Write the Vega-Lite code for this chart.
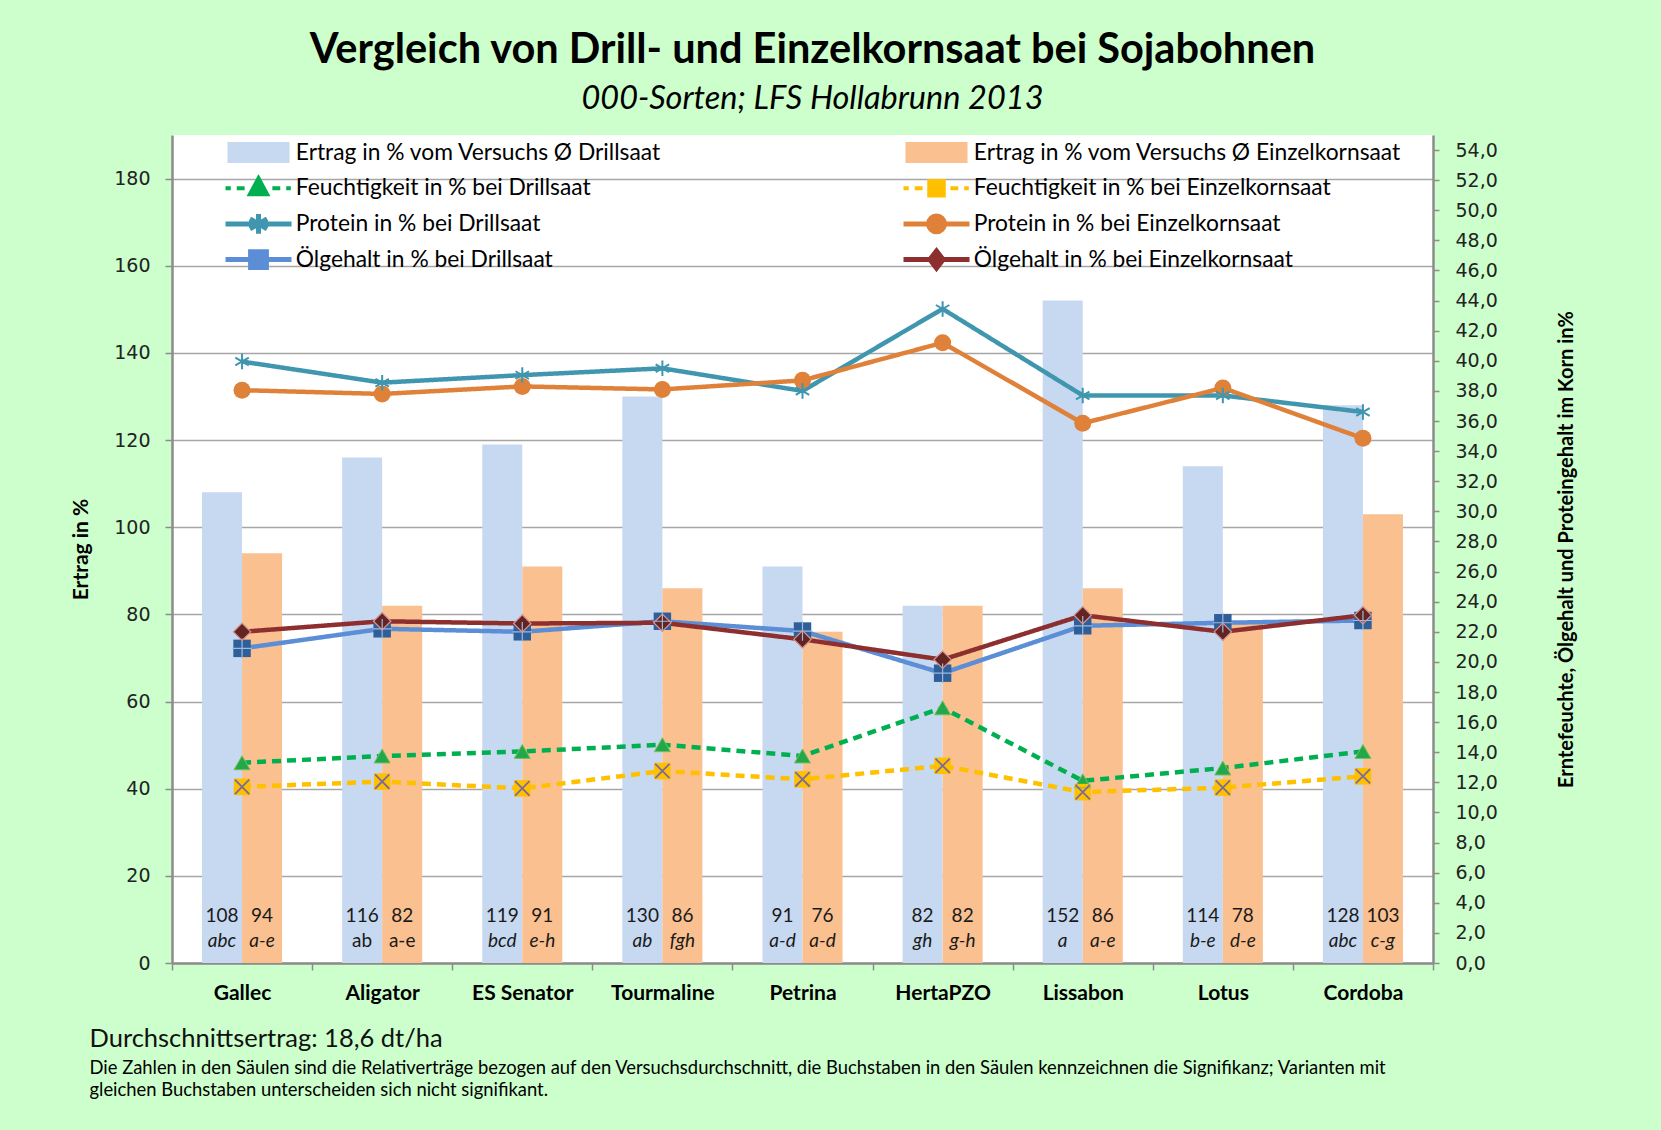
{
  "$schema": "https://vega.github.io/schema/vega-lite/v6.json",
  "width": 1261,
  "height": 828,
  "autosize": {"type": "none"},
  "padding": {"left": 172, "top": 135, "right": 228, "bottom": 167},
  "background": "#CCFFCC",
  "title": {
    "text": "Vergleich von Drill- und Einzelkornsaat bei Sojabohnen",
    "subtitle": "000-Sorten; LFS Hollabrunn 2013",
    "anchor": "middle", "frame": "group", "dx": 10, "offset": 20,
    "font": "Lato", "fontSize": 41.5, "fontWeight": "bold", "color": "#000000",
    "subtitleFont": "Lato", "subtitleFontSize": 32.5, "subtitleFontStyle": "italic", "subtitleFontWeight": "normal",
    "subtitleColor": "#000000", "subtitlePadding": 11
  },
  "datasets": {
    "ertrag": [
      {"sorte": "Gallec", "serie": "Ertrag in % vom Versuchs Ø Drillsaat", "ertrag": 108, "sig": "abc"},
      {"sorte": "Gallec", "serie": "Ertrag in % vom Versuchs Ø Einzelkornsaat", "ertrag": 94, "sig": "a-e"},
      {"sorte": "Aligator", "serie": "Ertrag in % vom Versuchs Ø Drillsaat", "ertrag": 116, "sig": "ab"},
      {"sorte": "Aligator", "serie": "Ertrag in % vom Versuchs Ø Einzelkornsaat", "ertrag": 82, "sig": "a-e"},
      {"sorte": "ES Senator", "serie": "Ertrag in % vom Versuchs Ø Drillsaat", "ertrag": 119, "sig": "bcd"},
      {"sorte": "ES Senator", "serie": "Ertrag in % vom Versuchs Ø Einzelkornsaat", "ertrag": 91, "sig": "e-h"},
      {"sorte": "Tourmaline", "serie": "Ertrag in % vom Versuchs Ø Drillsaat", "ertrag": 130, "sig": "ab"},
      {"sorte": "Tourmaline", "serie": "Ertrag in % vom Versuchs Ø Einzelkornsaat", "ertrag": 86, "sig": "fgh"},
      {"sorte": "Petrina", "serie": "Ertrag in % vom Versuchs Ø Drillsaat", "ertrag": 91, "sig": "a-d"},
      {"sorte": "Petrina", "serie": "Ertrag in % vom Versuchs Ø Einzelkornsaat", "ertrag": 76, "sig": "a-d"},
      {"sorte": "HertaPZO", "serie": "Ertrag in % vom Versuchs Ø Drillsaat", "ertrag": 82, "sig": "gh"},
      {"sorte": "HertaPZO", "serie": "Ertrag in % vom Versuchs Ø Einzelkornsaat", "ertrag": 82, "sig": "g-h"},
      {"sorte": "Lissabon", "serie": "Ertrag in % vom Versuchs Ø Drillsaat", "ertrag": 152, "sig": "a"},
      {"sorte": "Lissabon", "serie": "Ertrag in % vom Versuchs Ø Einzelkornsaat", "ertrag": 86, "sig": "a-e"},
      {"sorte": "Lotus", "serie": "Ertrag in % vom Versuchs Ø Drillsaat", "ertrag": 114, "sig": "b-e"},
      {"sorte": "Lotus", "serie": "Ertrag in % vom Versuchs Ø Einzelkornsaat", "ertrag": 78, "sig": "d-e"},
      {"sorte": "Cordoba", "serie": "Ertrag in % vom Versuchs Ø Drillsaat", "ertrag": 128, "sig": "abc"},
      {"sorte": "Cordoba", "serie": "Ertrag in % vom Versuchs Ø Einzelkornsaat", "ertrag": 103, "sig": "c-g"}
    ],
    "qualitaet": [
      {"sorte": "Gallec", "merkmal": "Feuchtigkeit in %  bei Drillsaat", "wert": 13.3},
      {"sorte": "Aligator", "merkmal": "Feuchtigkeit in %  bei Drillsaat", "wert": 13.75},
      {"sorte": "ES Senator", "merkmal": "Feuchtigkeit in %  bei Drillsaat", "wert": 14.05},
      {"sorte": "Tourmaline", "merkmal": "Feuchtigkeit in %  bei Drillsaat", "wert": 14.5},
      {"sorte": "Petrina", "merkmal": "Feuchtigkeit in %  bei Drillsaat", "wert": 13.75},
      {"sorte": "HertaPZO", "merkmal": "Feuchtigkeit in %  bei Drillsaat", "wert": 16.95},
      {"sorte": "Lissabon", "merkmal": "Feuchtigkeit in %  bei Drillsaat", "wert": 12.1},
      {"sorte": "Lotus", "merkmal": "Feuchtigkeit in %  bei Drillsaat", "wert": 12.95},
      {"sorte": "Cordoba", "merkmal": "Feuchtigkeit in %  bei Drillsaat", "wert": 14.05},
      {"sorte": "Gallec", "merkmal": "Feuchtigkeit in %  bei Einzelkornsaat", "wert": 11.7},
      {"sorte": "Aligator", "merkmal": "Feuchtigkeit in %  bei Einzelkornsaat", "wert": 12.05},
      {"sorte": "ES Senator", "merkmal": "Feuchtigkeit in %  bei Einzelkornsaat", "wert": 11.6},
      {"sorte": "Tourmaline", "merkmal": "Feuchtigkeit in %  bei Einzelkornsaat", "wert": 12.75},
      {"sorte": "Petrina", "merkmal": "Feuchtigkeit in %  bei Einzelkornsaat", "wert": 12.2},
      {"sorte": "HertaPZO", "merkmal": "Feuchtigkeit in %  bei Einzelkornsaat", "wert": 13.1},
      {"sorte": "Lissabon", "merkmal": "Feuchtigkeit in %  bei Einzelkornsaat", "wert": 11.35},
      {"sorte": "Lotus", "merkmal": "Feuchtigkeit in %  bei Einzelkornsaat", "wert": 11.65},
      {"sorte": "Cordoba", "merkmal": "Feuchtigkeit in %  bei Einzelkornsaat", "wert": 12.4},
      {"sorte": "Gallec", "merkmal": "Protein in %  bei Drillsaat", "wert": 39.95},
      {"sorte": "Aligator", "merkmal": "Protein in %  bei Drillsaat", "wert": 38.55},
      {"sorte": "ES Senator", "merkmal": "Protein in %  bei Drillsaat", "wert": 39.05},
      {"sorte": "Tourmaline", "merkmal": "Protein in %  bei Drillsaat", "wert": 39.5},
      {"sorte": "Petrina", "merkmal": "Protein in %  bei Drillsaat", "wert": 38.0},
      {"sorte": "HertaPZO", "merkmal": "Protein in %  bei Drillsaat", "wert": 43.45},
      {"sorte": "Lissabon", "merkmal": "Protein in %  bei Drillsaat", "wert": 37.7},
      {"sorte": "Lotus", "merkmal": "Protein in %  bei Drillsaat", "wert": 37.7},
      {"sorte": "Cordoba", "merkmal": "Protein in %  bei Drillsaat", "wert": 36.6},
      {"sorte": "Gallec", "merkmal": "Protein in %  bei Einzelkornsaat", "wert": 38.05},
      {"sorte": "Aligator", "merkmal": "Protein in %  bei Einzelkornsaat", "wert": 37.8},
      {"sorte": "ES Senator", "merkmal": "Protein in %  bei Einzelkornsaat", "wert": 38.3},
      {"sorte": "Tourmaline", "merkmal": "Protein in %  bei Einzelkornsaat", "wert": 38.1},
      {"sorte": "Petrina", "merkmal": "Protein in %  bei Einzelkornsaat", "wert": 38.7},
      {"sorte": "HertaPZO", "merkmal": "Protein in %  bei Einzelkornsaat", "wert": 41.2},
      {"sorte": "Lissabon", "merkmal": "Protein in %  bei Einzelkornsaat", "wert": 35.85},
      {"sorte": "Lotus", "merkmal": "Protein in %  bei Einzelkornsaat", "wert": 38.2},
      {"sorte": "Cordoba", "merkmal": "Protein in %  bei Einzelkornsaat", "wert": 34.85},
      {"sorte": "Gallec", "merkmal": "Ölgehalt in %  bei Drillsaat", "wert": 20.9},
      {"sorte": "Aligator", "merkmal": "Ölgehalt in %  bei Drillsaat", "wert": 22.2},
      {"sorte": "ES Senator", "merkmal": "Ölgehalt in %  bei Drillsaat", "wert": 22.0},
      {"sorte": "Tourmaline", "merkmal": "Ölgehalt in %  bei Drillsaat", "wert": 22.7},
      {"sorte": "Petrina", "merkmal": "Ölgehalt in %  bei Drillsaat", "wert": 22.05},
      {"sorte": "HertaPZO", "merkmal": "Ölgehalt in %  bei Drillsaat", "wert": 19.25},
      {"sorte": "Lissabon", "merkmal": "Ölgehalt in %  bei Drillsaat", "wert": 22.4},
      {"sorte": "Lotus", "merkmal": "Ölgehalt in %  bei Drillsaat", "wert": 22.6},
      {"sorte": "Cordoba", "merkmal": "Ölgehalt in %  bei Drillsaat", "wert": 22.75},
      {"sorte": "Gallec", "merkmal": "Ölgehalt in %  bei Einzelkornsaat", "wert": 22.0},
      {"sorte": "Aligator", "merkmal": "Ölgehalt in %  bei Einzelkornsaat", "wert": 22.7},
      {"sorte": "ES Senator", "merkmal": "Ölgehalt in %  bei Einzelkornsaat", "wert": 22.55},
      {"sorte": "Tourmaline", "merkmal": "Ölgehalt in %  bei Einzelkornsaat", "wert": 22.6},
      {"sorte": "Petrina", "merkmal": "Ölgehalt in %  bei Einzelkornsaat", "wert": 21.5},
      {"sorte": "HertaPZO", "merkmal": "Ölgehalt in %  bei Einzelkornsaat", "wert": 20.15},
      {"sorte": "Lissabon", "merkmal": "Ölgehalt in %  bei Einzelkornsaat", "wert": 23.1},
      {"sorte": "Lotus", "merkmal": "Ölgehalt in %  bei Einzelkornsaat", "wert": 22.0},
      {"sorte": "Cordoba", "merkmal": "Ölgehalt in %  bei Einzelkornsaat", "wert": 23.1}
    ]
  },
  "layer": [
    {
      "data": {"name": "ertrag"},
      "encoding": {
        "x": {
          "field": "sorte", "type": "nominal", "sort": null,
          "scale": {"domain": ["Gallec", "Aligator", "ES Senator", "Tourmaline", "Petrina", "HertaPZO", "Lissabon", "Lotus", "Cordoba"], "paddingInner": 0, "paddingOuter": 0},
          "axis": {
            "orient": "bottom",
            "title": "Durchschnittsertrag: 18,6  dt/ha", "titleX": -83, "titleY": 75, "titleAlign": "left", "titleBaseline": "middle",
            "titleFont": "Lato", "titleFontSize": 25.5, "titleFontWeight": "normal", "titleColor": "#111111",
            "labelAngle": 0, "labelFont": "Lato", "labelFontSize": 21, "labelFontWeight": "bold", "labelColor": "#000000", "labelPadding": 12,
            "tickBand": "extent", "tickSize": 7, "tickColor": "#8C8C8C", "tickWidth": 1.5,
            "domainColor": "#8C8C8C", "domainWidth": 2.5, "grid": false
          }
        },
        "xOffset": {
          "field": "serie", "type": "nominal", "sort": null,
          "scale": {"domain": ["Ertrag in % vom Versuchs Ø Drillsaat", "Ertrag in % vom Versuchs Ø Einzelkornsaat"], "paddingInner": 0, "paddingOuter": 0.75}
        },
        "y": {
          "field": "ertrag", "type": "quantitative",
          "scale": {"domain": [0, 190], "nice": false},
          "axis": {
            "values": [0, 20, 40, 60, 80, 100, 120, 140, 160, 180],
            "grid": true, "gridColor": "#A6A6A6", "gridWidth": 1.5,
            "domainColor": "#8C8C8C", "domainWidth": 2.5, "tickColor": "#8C8C8C", "tickSize": 7, "tickWidth": 1.5,
            "labelFont": "DejaVu Sans", "labelFontSize": 19, "labelColor": "#222222", "labelPadding": 15,
            "title": "Ertrag in %", "titleFont": "Lato", "titleFontSize": 21, "titleFontWeight": "bold", "titleColor": "#000000", "titlePadding": 22
          }
        }
      },
      "layer": [
        {
          "mark": {"type": "bar"},
          "encoding": {
            "color": {
              "field": "serie", "type": "nominal",
              "scale": {
                "domain": ["Ertrag in % vom Versuchs Ø Drillsaat", "Ertrag in % vom Versuchs Ø Einzelkornsaat", "Feuchtigkeit in %  bei Drillsaat", "Feuchtigkeit in %  bei Einzelkornsaat", "Protein in %  bei Drillsaat", "Protein in %  bei Einzelkornsaat", "Ölgehalt in %  bei Drillsaat", "Ölgehalt in %  bei Einzelkornsaat"],
                "range": ["#C6D9F1", "#FAC090", "#00B050", "#FFC000", "#3F96AE", "#DF8139", "#5B8ED6", "#8E2F2F"]
              },
              "legend": {
                "title": null, "orient": "none", "legendX": 52, "legendY": 3.5, "columns": 2, "direction": "horizontal",
                "columnPadding": 240, "rowPadding": 7.7, "clipHeight": 28, "padding": 0,
                "symbolSize": 4356, "symbolStrokeWidth": 4,
                "labelFont": "Lato", "labelFontSize": 22.8, "labelColor": "#000000", "labelOffset": 49, "labelLimit": 800,
                "encode": {
                  "symbols": {
                    "update": {
                      "shape": {"signal": "['M-0.24,-0.32H1.64V0.32H-0.24Z','M-0.24,-0.32H1.64V0.32H-0.24Z','M-0.3,0H-0.14M0.04,0H0.28M1.12,0H1.36M1.54,0H1.68M0.7,-0.3L0.96,0.18L0.44,0.18Z','M-0.3,0H-0.14M0.04,0H0.28M1.12,0H1.36M1.54,0H1.68M0.48,-0.22H0.92V0.22H0.48Z','M-0.3,0H1.7M0.7,-0.3V0.3M0.44,-0.15L0.96,0.15M0.44,0.15L0.96,-0.15','M-0.3,0H1.7M0.46,0A0.24,0.24,0,1,0,0.94,0A0.24,0.24,0,1,0,0.46,0Z','M-0.3,0H1.7M0.46,-0.24H0.94V0.24H0.46Z','M-0.3,0H1.7M0.7,-0.26L0.9,0L0.7,0.26L0.5,0Z'][datum.index]"},
                      "size": {"value": 4356},
                      "fill": {"signal": "['#C6D9F1','#FAC090','#22A84A','#FFC000','#3F96AE','#DF8139','#2F5F98','#632523'][datum.index]"},
                      "stroke": {"signal": "['#C6D9F1','#FAC090','#00B050','#FFC000','#3F96AE','#DF8139','#5B8ED6','#8E2F2F'][datum.index]"},
                      "strokeWidth": {"signal": "datum.index < 2 ? 0 : (datum.index < 4 ? 4 : 5)"},
                      "opacity": {"value": 1}
                    }
                  }
                }
              }
            }
          }
        },
        {
          "mark": {"type": "text", "font": "Lato", "fontSize": 19, "color": "#1A1A1A", "baseline": "middle"},
          "encoding": {
            "y": {"datum": 10.8, "type": "quantitative"},
            "text": {"field": "ertrag", "type": "quantitative"}
          }
        },
        {
          "transform": [{"filter": "datum.sorte !== 'Aligator'"}],
          "mark": {"type": "text", "font": "Lato", "fontSize": 19, "fontStyle": "italic", "color": "#1A1A1A", "baseline": "middle"},
          "encoding": {
            "y": {"datum": 5.1, "type": "quantitative"},
            "text": {"field": "sig", "type": "nominal"}
          }
        },
        {
          "transform": [{"filter": "datum.sorte === 'Aligator'"}],
          "mark": {"type": "text", "font": "Lato", "fontSize": 19, "color": "#1A1A1A", "baseline": "middle"},
          "encoding": {
            "y": {"datum": 5.1, "type": "quantitative"},
            "text": {"field": "sig", "type": "nominal"}
          }
        }
      ]
    },
    {
      "data": {"name": "qualitaet"},
      "encoding": {
        "x": {
          "field": "sorte", "type": "nominal", "sort": null,
          "scale": {"domain": ["Gallec", "Aligator", "ES Senator", "Tourmaline", "Petrina", "HertaPZO", "Lissabon", "Lotus", "Cordoba"], "paddingInner": 0, "paddingOuter": 0},
          "axis": {
            "orient": "bottom",
            "title": ["Die Zahlen in den Säulen sind die Relativerträge bezogen auf den Versuchsdurchschnitt, die Buchstaben in den Säulen kennzeichnen die Signifikanz; Varianten mit", "gleichen Buchstaben unterscheiden sich nicht signifikant."],
            "titleX": -83, "titleY": 95, "titleAlign": "left", "titleBaseline": "top", "titleLimit": 3000,
            "titleFont": "Lato", "titleFontSize": 18.4, "titleFontWeight": "normal", "titleColor": "#000000", "titleLineHeight": 22,
            "labels": false, "ticks": false, "domain": false, "grid": false
          }
        },
        "y": {
          "field": "wert", "type": "quantitative",
          "scale": {"domain": [0, 55], "nice": false},
          "axis": {
            "orient": "right",
            "values": [0, 2, 4, 6, 8, 10, 12, 14, 16, 18, 20, 22, 24, 26, 28, 30, 32, 34, 36, 38, 40, 42, 44, 46, 48, 50, 52, 54],
            "labelExpr": "replace(format(datum.value, '.1f'), '.', ',')",
            "grid": false,
            "domainColor": "#8C8C8C", "domainWidth": 2.5, "tickColor": "#8C8C8C", "tickSize": 6, "tickWidth": 1.5,
            "labelFont": "DejaVu Sans", "labelFontSize": 19, "labelColor": "#222222", "labelPadding": 16,
            "title": "Erntefeuchte, Ölgehalt und Proteingehalt im Korn in%", "titleAngle": 270, "titleBaseline": "top",
            "titleFont": "Lato", "titleFontSize": 20, "titleFontWeight": "bold", "titleColor": "#000000", "titlePadding": 59
          }
        }
      },
      "layer": [
        {
          "mark": {"type": "line"},
          "encoding": {
            "stroke": {
              "field": "merkmal", "type": "nominal", "legend": null,
              "scale": {
                "domain": ["Feuchtigkeit in %  bei Drillsaat", "Feuchtigkeit in %  bei Einzelkornsaat", "Protein in %  bei Drillsaat", "Protein in %  bei Einzelkornsaat", "Ölgehalt in %  bei Drillsaat", "Ölgehalt in %  bei Einzelkornsaat"],
                "range": ["#00B050", "#FFC000", "#3F96AE", "#DF8139", "#5B8ED6", "#8E2F2F"]
              }
            },
            "strokeDash": {
              "field": "merkmal", "type": "nominal", "legend": null,
              "scale": {
                "domain": ["Feuchtigkeit in %  bei Drillsaat", "Feuchtigkeit in %  bei Einzelkornsaat", "Protein in %  bei Drillsaat", "Protein in %  bei Einzelkornsaat", "Ölgehalt in %  bei Drillsaat", "Ölgehalt in %  bei Einzelkornsaat"],
                "range": [[9, 6], [9, 6], [1, 0], [1, 0], [1, 0], [1, 0]]
              }
            },
            "strokeWidth": {
              "field": "merkmal", "type": "nominal", "legend": null,
              "scale": {
                "domain": ["Feuchtigkeit in %  bei Drillsaat", "Feuchtigkeit in %  bei Einzelkornsaat", "Protein in %  bei Drillsaat", "Protein in %  bei Einzelkornsaat", "Ölgehalt in %  bei Drillsaat", "Ölgehalt in %  bei Einzelkornsaat"],
                "range": [4.5, 4.5, 5, 5, 5, 5]
              }
            }
          }
        },
        {
          "transform": [{"filter": "datum.merkmal !== 'Protein in %  bei Drillsaat'"}],
          "mark": {"type": "point", "filled": true, "opacity": 1, "strokeWidth": 0},
          "encoding": {
            "shape": {
              "field": "merkmal", "type": "nominal", "legend": null,
              "scale": {
                "domain": ["Feuchtigkeit in %  bei Drillsaat", "Feuchtigkeit in %  bei Einzelkornsaat", "Protein in %  bei Einzelkornsaat", "Ölgehalt in %  bei Drillsaat", "Ölgehalt in %  bei Einzelkornsaat"],
                "range": ["triangle-up", "square", "circle", "square", "diamond"]
              }
            },
            "fill": {
              "field": "merkmal", "type": "nominal", "legend": null,
              "scale": {
                "domain": ["Feuchtigkeit in %  bei Drillsaat", "Feuchtigkeit in %  bei Einzelkornsaat", "Protein in %  bei Einzelkornsaat", "Ölgehalt in %  bei Drillsaat", "Ölgehalt in %  bei Einzelkornsaat"],
                "range": ["#22A84A", "#FFC000", "#DF8139", "#2F5F98", "#632523"]
              }
            },
            "size": {
              "field": "merkmal", "type": "nominal", "legend": null,
              "scale": {
                "domain": ["Feuchtigkeit in %  bei Drillsaat", "Feuchtigkeit in %  bei Einzelkornsaat", "Protein in %  bei Einzelkornsaat", "Ölgehalt in %  bei Drillsaat", "Ölgehalt in %  bei Einzelkornsaat"],
                "range": [260, 320, 290, 380, 300]
              }
            }
          }
        },
        {
          "transform": [{"filter": "datum.merkmal === 'Feuchtigkeit in %  bei Drillsaat'"}],
          "mark": {"type": "point", "shape": "triangle-up", "size": 260, "filled": false, "opacity": 1, "stroke": "#7CBF5A", "strokeWidth": 1}
        },
        {
          "transform": [{"filter": "datum.merkmal === 'Feuchtigkeit in %  bei Einzelkornsaat'"}],
          "mark": {"type": "point", "shape": "M-0.8,-0.8L0.8,0.8M0.8,-0.8L-0.8,0.8", "size": 320, "filled": false, "opacity": 1, "stroke": "#7B6A9A", "strokeWidth": 1.8}
        },
        {
          "transform": [{"filter": "datum.merkmal === 'Protein in %  bei Drillsaat'"}],
          "mark": {"type": "point", "shape": "M0,-1V1M-0.87,-0.5L0.87,0.5M-0.87,0.5L0.87,-0.5", "size": 240, "filled": false, "opacity": 1, "stroke": "#3F96AE", "strokeWidth": 2}
        },
        {
          "transform": [{"filter": "datum.merkmal === 'Ölgehalt in %  bei Drillsaat'"}],
          "mark": {"type": "point", "shape": "M-1,0H1M0,-1V1", "size": 380, "filled": false, "opacity": 1, "stroke": "#9DB9E0", "strokeWidth": 1.2}
        },
        {
          "transform": [{"filter": "datum.merkmal === 'Ölgehalt in %  bei Einzelkornsaat'"}],
          "mark": {"type": "point", "shape": "diamond", "size": 300, "filled": false, "opacity": 1, "stroke": "#D99694", "strokeWidth": 1.2}
        }
      ]
    }
  ],
  "resolve": {"scale": {"y": "independent"}, "axis": {"y": "independent", "x": "independent"}},
  "config": {
    "font": "Lato",
    "view": {"stroke": null, "fill": "#FFFFFF"}
  }
}
